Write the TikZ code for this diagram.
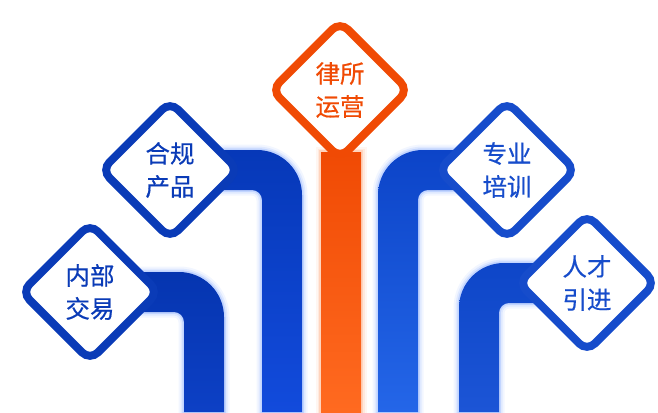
\documentclass[tikz,border=0pt]{standalone}
\usepackage{fontspec}
\newfontfamily\cjk{Noto Sans CJK SC}[FakeBold=0.5]
\usetikzlibrary{shapes.geometric,calc}
\definecolor{blueL}{HTML}{0A3BB7}
\definecolor{blueR}{HTML}{164CCB}
\definecolor{orangeD}{HTML}{F04A04}
\definecolor{orangeL}{HTML}{FF6A20}
\definecolor{glowB}{HTML}{5A8CFF}
\definecolor{glowO}{HTML}{FF8A50}
\definecolor{bAt}{HTML}{0535B0}
\definecolor{bAb}{HTML}{0D40C5}
\definecolor{bBt}{HTML}{0638B8}
\definecolor{bBb}{HTML}{124BDC}
\definecolor{bCt}{HTML}{0C44C8}
\definecolor{bCb}{HTML}{2466E8}
\definecolor{bDt}{HTML}{0E46C8}
\definecolor{bDb}{HTML}{1C55D6}
\pgfdeclarelayer{bg}
\pgfsetlayers{bg,main}
\tikzset{
  dia/.style={shape=diamond, aspect=1, minimum size=140, inner sep=0pt,
    draw=#1, text=#1, line width=8pt, fill=white, rounded corners=11pt,
    align=center, font=\cjk\fontsize{24.5}{33}\selectfont},
  glow/.style={preaction={draw=#1, line width=11pt, draw opacity=0.08},
    preaction={draw=#1, line width=7pt, draw opacity=0.12},
    preaction={draw=#1, line width=3.5pt, draw opacity=0.22}},
}
% bar whose arm comes from the left: node, left x of vertical, top y of arm, colours
\newcommand\mybarL[5]{%
  \shade[glow=glowB, top color=#4, bottom color=#5]
    ($(#1.center)+(0,-20)$) -- ({#2+40-45},#3)
    arc[start angle=-90, end angle=0, radius=45] -- ({#2+40},412)
    -- (#2,412) -- (#2,{#3+40+10})
    arc[start angle=0, end angle=-90, radius=10]
    -- ($(#1.center)+(0,20)$) -- cycle;}
% bar whose arm comes from the right
\newcommand\mybarR[5]{%
  \shade[glow=glowB, top color=#4, bottom color=#5]
    ($(#1.center)+(0,-20)$) -- ({#2+45},#3)
    arc[start angle=-90, end angle=-180, radius=45] -- (#2,412)
    -- ({#2+40},412) -- ({#2+40},{#3+40+10})
    arc[start angle=180, end angle=270, radius=10]
    -- ($(#1.center)+(0,20)$) -- cycle;}
\begin{document}
\begin{tikzpicture}[x=1pt, y=-1pt]
\useasboundingbox (0,0) rectangle (658,412);
\node[dia=blueL] (d1) at (90,292) {内部\\交易};
\node[dia=blueL] (d2) at (170,170) {合规\\产品};
\node[dia=orangeD] (d3) at (340,90) {律所\\运营};
\node[dia=blueR] (d4) at (507,170) {专业\\培训};
\node[dia=blueR] (d5) at (587,283) {人才\\引进};
\coordinate (e3) at (361,412);
\begin{pgfonlayer}{bg}
\mybarL{d1}{184}{272}{bAt}{bAb}
\mybarL{d2}{262}{150}{bBt}{bBb}
\mybarR{d4}{378}{150}{bCt}{bCb}
\mybarR{d5}{459}{263}{bDt}{bDb}
\shade[glow=glowO, top color=orangeD, bottom color=orangeL]
  ($(d3.south)+(-19,-12)$) rectangle (e3);
\end{pgfonlayer}
\end{tikzpicture}
\end{document}
